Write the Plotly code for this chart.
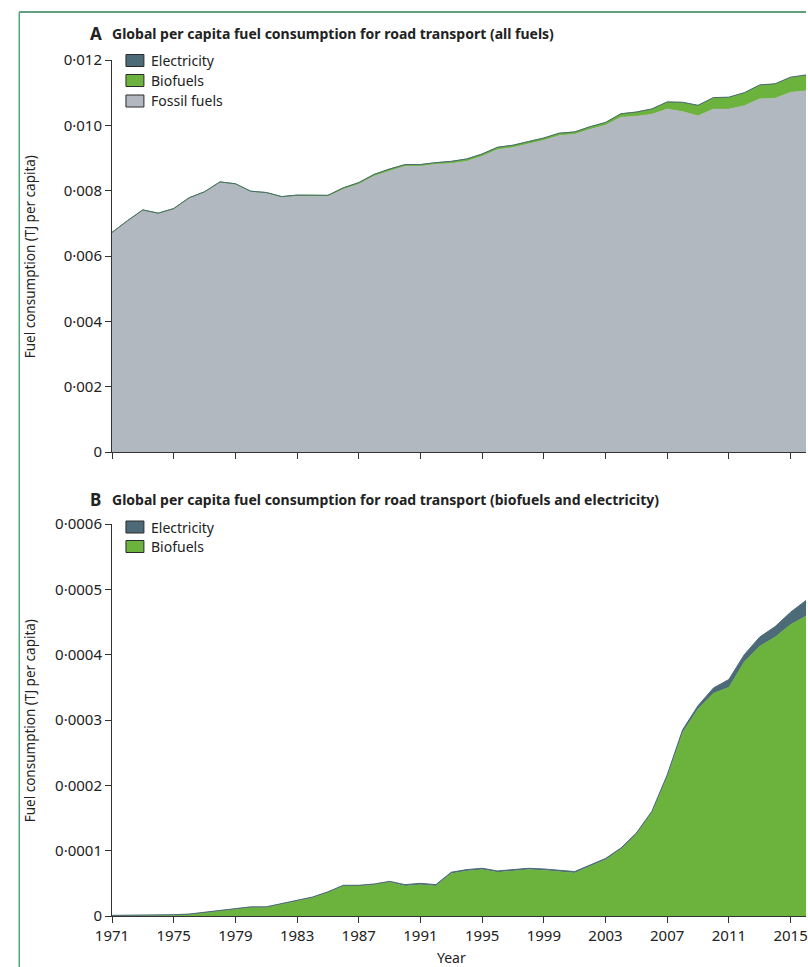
import plotly.graph_objects as go

years = list(range(1971, 2017))

fossil = [0.00672, 0.00708, 0.00741, 0.00731, 0.00745, 0.00778, 0.00796, 0.00826,
          0.00820, 0.00797, 0.00793, 0.00780, 0.00784, 0.00783, 0.00782, 0.00804,
          0.00820, 0.00845, 0.00861, 0.00875, 0.00875, 0.00881, 0.00883, 0.00890,
          0.00905, 0.00926, 0.00932, 0.00943, 0.00954, 0.00969, 0.00973, 0.00988,
          0.01000, 0.01025, 0.01028, 0.01034, 0.01050, 0.01042, 0.01029, 0.01050,
          0.01050, 0.01060, 0.01081, 0.01083, 0.01101, 0.01106]

biofuels = [0.0, 0.0, 0.0, 0.0, 0.000001, 0.000002, 0.000005, 0.000008,
            0.000011, 0.000013, 0.000013, 0.000018, 0.000023, 0.000028, 0.000036, 0.000046,
            0.000046, 0.000048, 0.000052, 0.000046, 0.000048, 0.000046, 0.000065, 0.000069,
            0.000071, 0.000067, 0.000069, 0.000071, 0.000070, 0.000068, 0.000066, 0.000076,
            0.000086, 0.000102, 0.000125, 0.000158, 0.000213, 0.000281, 0.000317, 0.000341,
            0.000350, 0.000389, 0.000413, 0.000427, 0.000446, 0.000459]

electricity = [0.000001, 0.000001, 0.000001, 0.000001, 0.000001, 0.000001, 0.000001, 0.000001,
               0.000001, 0.000001, 0.000001, 0.000001, 0.000001, 0.000001, 0.000001, 0.000001,
               0.000001, 0.000001, 0.000001, 0.000002, 0.000002, 0.000002, 0.000002, 0.000002,
               0.000002, 0.000002, 0.000002, 0.000002, 0.000002, 0.000002, 0.000002, 0.000002,
               0.000002, 0.000002, 0.000002, 0.000002, 0.000003, 0.000004, 0.000005, 0.000008,
               0.000012, 0.000011, 0.000014, 0.000016, 0.000019, 0.000024]

x_ticks = list(range(1971, 2016, 4))
ya_vals = [0, 0.002, 0.004, 0.006, 0.008, 0.010, 0.012]
ya_text = ["0", "0·002", "0·004", "0·006", "0·008", "0·010", "0·012"]
yb_vals = [0, 0.0001, 0.0002, 0.0003, 0.0004, 0.0005, 0.0006]
yb_text = ["0", "0·0001", "0·0002", "0·0003", "0·0004", "0·0005", "0·0006"]

C_FOSSIL = "#b1b8bf"
C_BIO = "#6bb33d"
C_ELEC = "#4c6a77"
FONT = "Noto Sans"
W, H = 808, 967
L, R, T, B = 112, 0, 60, 51
PW, PH = W - L - R, H - T - B

fig = go.Figure()
# Panel A
fig.add_trace(go.Scatter(x=years, y=fossil, name="Fossil fuels", stackgroup="a",
                         line=dict(color=C_FOSSIL, width=0.5), fillcolor=C_FOSSIL,
                         xaxis="x", yaxis="y", showlegend=False))
fig.add_trace(go.Scatter(x=years, y=biofuels, name="Biofuels", stackgroup="a",
                         line=dict(color=C_BIO, width=1), fillcolor=C_BIO,
                         xaxis="x", yaxis="y", showlegend=False))
fig.add_trace(go.Scatter(x=years, y=electricity, name="Electricity", stackgroup="a",
                         line=dict(color=C_ELEC, width=1), fillcolor=C_ELEC,
                         xaxis="x", yaxis="y", showlegend=False))
# Panel B
fig.add_trace(go.Scatter(x=years, y=biofuels, name="Biofuels", stackgroup="b",
                         line=dict(color=C_BIO, width=0.5), fillcolor=C_BIO,
                         xaxis="x2", yaxis="y2", showlegend=False))
fig.add_trace(go.Scatter(x=years, y=electricity, name="Electricity", stackgroup="b",
                         line=dict(color=C_ELEC, width=1), fillcolor=C_ELEC,
                         xaxis="x2", yaxis="y2", showlegend=False))

axis_common = dict(showgrid=False, zeroline=False, showline=True, linecolor="#333333",
                   linewidth=1, ticks="outside", ticklen=6, tickcolor="#333333",
                   ticklabeloverflow="allow",
                   tickfont=dict(family=FONT, size=15, color="#222222"))

fig.update_layout(
    width=W, height=H,
    margin=dict(l=L, r=R, t=T, b=B),
    paper_bgcolor="white", plot_bgcolor="white",
    font=dict(family=FONT, color="#222222"),
    xaxis=dict(range=[1971, 2016], tickvals=x_ticks, showticklabels=False,
               anchor="y", **axis_common),
    yaxis=dict(range=[0, 0.012], tickvals=ya_vals, ticktext=ya_text,
               domain=[(916 - 452) / PH, 1], anchor="x", **axis_common),
    xaxis2=dict(range=[1971, 2016], tickvals=x_ticks, ticktext=[str(v) for v in x_ticks],
                anchor="y2", **axis_common),
    yaxis2=dict(range=[0, 0.0006], tickvals=yb_vals, ticktext=yb_text,
                domain=[0, (916 - 524) / PH], anchor="x2", **axis_common),
)

def px_x(px):
    return (px - L) / PW

def px_y(py):
    return (T + PH - py) / PH

annots = []
shapes = []
# Panel titles
for letter, title, py in [("A", "Global per capita fuel consumption for road transport (all fuels)", 33),
                          ("B", "Global per capita fuel consumption for road transport (biofuels and electricity)", 499)]:
    annots.append(dict(text="<b>" + letter + "</b>", x=px_x(88), y=px_y(py), xref="paper", yref="paper",
                       xanchor="left", yanchor="middle", showarrow=False,
                       font=dict(family=FONT, size=17, color="#222222")))
    annots.append(dict(text="<b>" + title + "</b>", x=px_x(110), y=px_y(py), xref="paper", yref="paper",
                       xanchor="left", yanchor="middle", showarrow=False,
                       font=dict(family=FONT, size=14, color="#222222")))
# Axis titles
for py in [257, 721]:
    annots.append(dict(text="Fuel consumption (TJ per capita)", x=px_x(30), y=px_y(py),
                       xref="paper", yref="paper", xanchor="center", yanchor="middle",
                       textangle=-90, showarrow=False,
                       font=dict(family=FONT, size=13.5, color="#222222")))
annots.append(dict(text="Year", x=px_x(452), y=px_y(957), xref="paper", yref="paper",
                   xanchor="center", yanchor="middle", showarrow=False,
                   font=dict(family=FONT, size=14, color="#222222")))
# Legends (manual)
legA = [("Electricity", C_ELEC, 60.5), ("Biofuels", C_BIO, 80.5), ("Fossil fuels", C_FOSSIL, 101)]
legB = [("Electricity", C_ELEC, 527), ("Biofuels", C_BIO, 546.5)]
for name, col, cy in legA + legB:
    shapes.append(dict(type="rect", xref="paper", yref="paper",
                       x0=px_x(126), x1=px_x(144), y0=px_y(cy - 6), y1=px_y(cy + 6),
                       fillcolor=col, line=dict(color="#2a2a2a", width=1)))
    annots.append(dict(text=name, x=px_x(149), y=px_y(cy), xref="paper", yref="paper",
                       xanchor="left", yanchor="middle", showarrow=False,
                       font=dict(family=FONT, size=14, color="#222222")))
# Green frame
shapes.append(dict(type="line", xref="paper", yref="paper", x0=px_x(19), x1=px_x(W),
                   y0=px_y(12), y1=px_y(12), line=dict(color="#2f7f55", width=1.5)))
shapes.append(dict(type="line", xref="paper", yref="paper", x0=px_x(19), x1=px_x(19),
                   y0=px_y(12), y1=px_y(H), line=dict(color="#4fa77a", width=1.5)))

fig.update_layout(annotations=annots, shapes=shapes)
fig.write_html("out.html", config={"displayModeBar": False},
               post_script="document.body.style.margin='0';document.body.style.overflow='hidden';")
